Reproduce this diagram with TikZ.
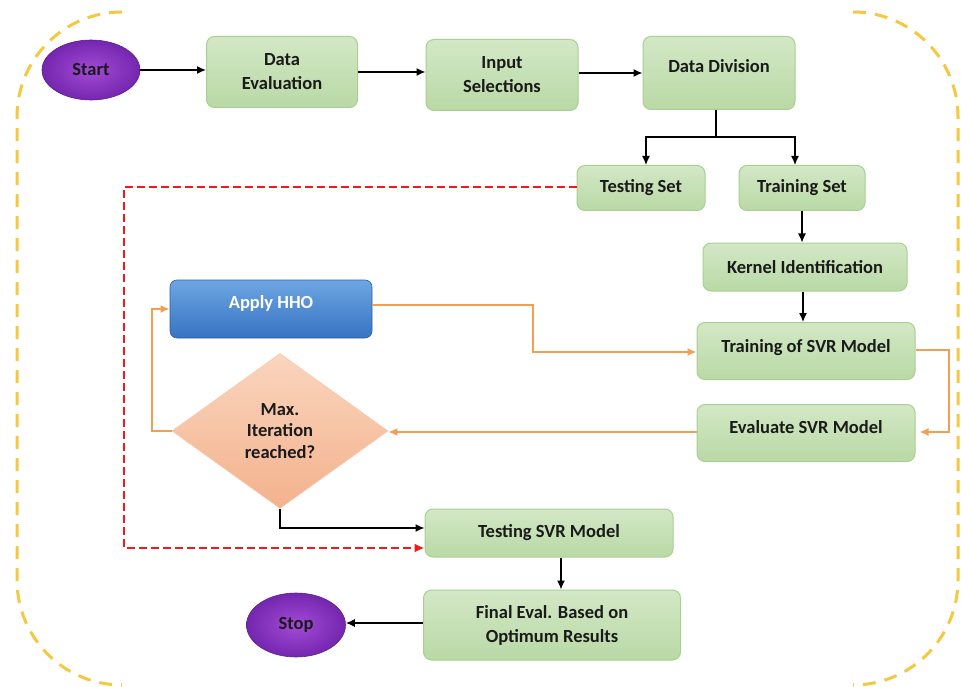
\documentclass[tikz,border=0pt]{standalone}
\usepackage{fontspec}
\setmainfont{Carlito}
\usetikzlibrary{arrows.meta,shapes.geometric}
\definecolor{gtop}{HTML}{D3E8C6}
\definecolor{gbot}{HTML}{B9D9A5}
\definecolor{gline}{HTML}{A9CF92}
\definecolor{purpin}{HTML}{A24BD6}
\definecolor{purpout}{HTML}{7526AE}
\definecolor{bluetop}{HTML}{6DA6E2}
\definecolor{bluebot}{HTML}{3673C2}
\definecolor{peachtop}{HTML}{FAD5BE}
\definecolor{peachbot}{HTML}{F3B28C}
\definecolor{orangeline}{HTML}{F0A050}
\definecolor{redline}{HTML}{F01A1A}
\definecolor{yellowline}{HTML}{F5C842}
\definecolor{txt}{HTML}{1A1A1A}
\tikzset{
  gbox/.style={draw=gline, line width=1pt, rounded corners=8pt, top color=gtop, bottom color=gbot,
    font=\bfseries\fontsize{18.5}{24}\selectfont, text=txt, align=center, inner sep=0pt},
  oval/.style={ellipse, draw=purpout!80!black, line width=0.6pt, inner color=purpin, outer color=purpout,
    font=\bfseries\fontsize{18.5}{22}\selectfont, text=txt, inner sep=0pt},
  arr/.style={line width=1.3pt, black, -{Latex[length=9pt,width=8pt]}},
  plain/.style={line width=1.3pt, black},
  oarr/.style={line width=2pt, orangeline, -{Latex[length=9pt,width=8pt]}},
  rarr/.style={line width=2pt, redline, dash pattern=on 8pt off 4pt, -{Latex[length=10pt,width=9pt]}},
  border/.style={line width=3pt, yellowline, dash pattern=on 13pt off 9pt}
}
\begin{document}
\begin{tikzpicture}[x=1pt,y=-1pt]
\useasboundingbox[fill=white] (0,0) rectangle (961,687);
% dashed frame corners and sides
\draw[border] (122,12) arc[start angle=-90, end angle=-180, radius=105] -- (17,580) arc[start angle=180, end angle=90, radius=105];
\draw[border] (853,12) arc[start angle=-90, end angle=0, radius=105] -- (958,580) arc[start angle=0, end angle=90, radius=105];

% nodes
\node[oval, minimum width=98pt, minimum height=60pt] (start) at (91,70) {Start};
\node[gbox, minimum width=151pt, minimum height=71pt] (de) at (282,72) {Data\\Evaluation};
\node[gbox, minimum width=152pt, minimum height=71pt] (is) at (502,75) {Input\\Selections};
\node[gbox, minimum width=152pt, minimum height=73pt, text depth=14pt] (dd) at (719,73) {Data Division};
\node[gbox, minimum width=128pt, minimum height=45pt] (ts) at (641,188) {Testing Set};
\node[gbox, minimum width=126pt, minimum height=45pt] (trs) at (802,188) {Training Set};
\node[gbox, minimum width=204pt, minimum height=48pt] (ki) at (805,267) {Kernel Identification};
\node[gbox, minimum width=218pt, minimum height=57pt, text depth=10pt] (tr) at (806,351) {Training of SVR Model};
\node[gbox, minimum width=218pt, minimum height=57pt, text depth=12pt] (ev) at (806,433) {Evaluate SVR Model};
\node[rounded corners=7pt, top color=bluetop, bottom color=bluebot, draw=bluebot!85!black, line width=0.6pt,
      minimum width=202pt, minimum height=58pt, text depth=14pt, inner sep=0pt,
      font=\bfseries\fontsize{18.5}{22}\selectfont, text=white] (hho) at (271,309) {Apply HHO};
\node[diamond, top color=peachtop, bottom color=peachbot, draw=peachbot!70!white, line width=0.6pt,
      minimum width=216pt, minimum height=155pt, inner sep=0pt, align=center,
      font=\bfseries\fontsize{18.5}{21.5}\selectfont, text=txt] (dia) at (280,431) {Max.\\Iteration\\reached?};
\node[gbox, minimum width=248pt, minimum height=48pt] (tsvr) at (549,533) {Testing SVR Model};
\node[gbox, minimum width=257pt, minimum height=70pt] (fe) at (552,625) {Final Eval. Based on\\Optimum Results};
\node[oval, minimum width=99pt, minimum height=64pt] (stop) at (296,625) {Stop};

% helper coordinates
\coordinate (split) at (716,137);
\coordinate (obend) at (533,0);
\coordinate (rbend) at (124,0);

% black connectors
\draw[arr] (start.east) -- (start.east -| de.west);
\draw[arr] (de.east) -- (de.east -| is.west);
\draw[arr] ([yshift=2pt]is.east) -- ([yshift=2pt]is.east -| dd.west);
\draw[plain] (dd.south -| split) -- (split);
\draw[arr] (split) -| ([xshift=5pt]ts.north);
\draw[arr] (split) -| ([xshift=-7pt]trs.north);
\draw[arr] (trs.south) -- (trs.south |- ki.north);
\draw[arr] ([xshift=-2pt]ki.south) -- ([xshift=-2pt]ki.south |- tr.north);
\draw[arr] (dia.south) |- ([yshift=5pt]tsvr.west);
\draw[arr] ([xshift=12pt]tsvr.south) -- ([xshift=12pt]tsvr.south |- fe.north);
\draw[arr] ([yshift=2pt]fe.west) -- ([yshift=2pt]fe.west -| stop.east);

% orange loop
\draw[oarr] ([yshift=1pt]tr.east) -- ++(33,0) |- ([xshift=4pt,yshift=1pt]ev.east);
\draw[oarr] ([yshift=1pt]ev.west) -- ([yshift=1pt]ev.west -| dia.east);
\draw[oarr] (dia.west) -- ++(-20,0) |- (hho.west);
\draw[oarr] ([yshift=4pt]hho.east) -- ([yshift=4pt]hho.east -| obend) |- ([yshift=-1pt]tr.west);

% red dashed
\draw[rarr] ([yshift=1pt]ts.west) -- ([yshift=1pt]ts.west -| rbend) |- ([yshift=-15pt]tsvr.west);
\end{tikzpicture}
\end{document}
